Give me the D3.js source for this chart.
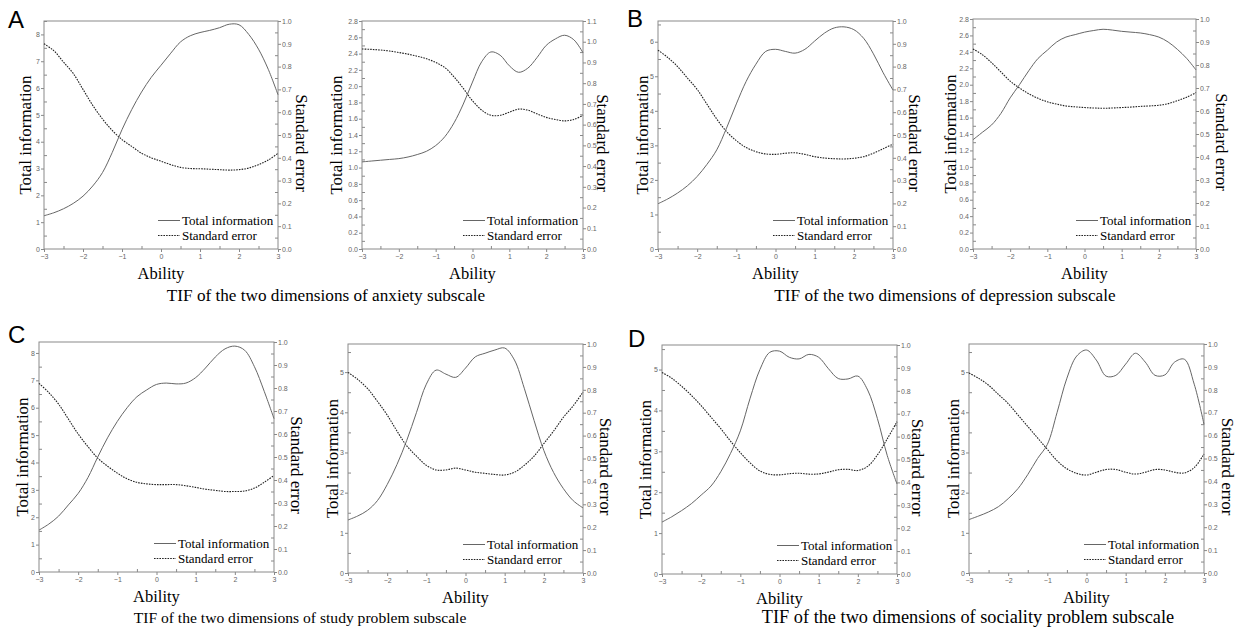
<!DOCTYPE html>
<html>
<head>
<meta charset="utf-8">
<script src="https://cdnjs.cloudflare.com/ajax/libs/d3/7.8.5/d3.min.js"></script>
<style>
  body { margin: 0; background: #fff; }
  .tick text { font-family: "Liberation Sans", Arial, sans-serif; font-size: 7px; fill: #666; }
  .tick line { stroke: #888; }
</style>
</head>
<body>
<svg id="fig" width="1240" height="634"></svg>
<script>

// ability grid shared by every panel
var ability = [-3, -2.75, -2.5, -2.25, -2, -1.75, -1.5, -1.25, -1, -0.75, -0.5, -0.25,
	0, 0.25, 0.5, 0.75, 1, 1.25, 1.5, 1.75, 2, 2.25, 2.5, 2.75, 3];
var abilityTicks = [-3, -2, -1, 0, 1, 2, 3];

// A - anxiety subscale
var anxietyInfo1 = [1.24, 1.35, 1.5, 1.7, 1.97, 2.35, 2.85, 3.6, 4.45, 5.2, 5.85, 6.4, 6.85, 7.3, 7.72, 7.95, 8.07, 8.15, 8.25, 8.38, 8.36, 8.0, 7.45, 6.7, 5.75];
var anxietySE1 = [0.90, 0.87, 0.82, 0.77, 0.70, 0.63, 0.57, 0.52, 0.48, 0.45, 0.42, 0.40, 0.385, 0.37, 0.358, 0.353, 0.352, 0.35, 0.348, 0.346, 0.348, 0.355, 0.37, 0.39, 0.42];
var anxietyInfo2 = [1.07, 1.08, 1.09, 1.10, 1.11, 1.13, 1.16, 1.2, 1.27, 1.38, 1.55, 1.78, 2.05, 2.3, 2.42, 2.38, 2.25, 2.17, 2.22, 2.35, 2.5, 2.58, 2.625, 2.57, 2.41];
var anxietySE2 = [0.965, 0.963, 0.96, 0.955, 0.948, 0.94, 0.93, 0.918, 0.90, 0.875, 0.83, 0.775, 0.715, 0.67, 0.645, 0.645, 0.66, 0.675, 0.67, 0.652, 0.635, 0.625, 0.618, 0.625, 0.645];

// B - depression subscale
var depressionInfo1 = [1.31, 1.45, 1.62, 1.83, 2.1, 2.45, 2.87, 3.5, 4.2, 4.85, 5.35, 5.72, 5.78, 5.72, 5.67, 5.78, 6.02, 6.25, 6.4, 6.43, 6.35, 6.1, 5.65, 5.1, 4.6];
var depressionSE1 = [0.872, 0.84, 0.80, 0.75, 0.70, 0.635, 0.57, 0.515, 0.475, 0.445, 0.427, 0.417, 0.415, 0.42, 0.422, 0.415, 0.405, 0.399, 0.396, 0.395, 0.398, 0.405, 0.42, 0.44, 0.46];
var depressionInfo2 = [1.33, 1.42, 1.51, 1.65, 1.84, 2.0, 2.17, 2.32, 2.42, 2.52, 2.58, 2.61, 2.64, 2.66, 2.675, 2.665, 2.65, 2.64, 2.63, 2.61, 2.58, 2.52, 2.43, 2.32, 2.18];
var depressionSE2 = [0.87, 0.845, 0.81, 0.77, 0.73, 0.70, 0.675, 0.655, 0.64, 0.63, 0.622, 0.618, 0.615, 0.613, 0.612, 0.613, 0.615, 0.617, 0.62, 0.622, 0.625, 0.632, 0.645, 0.66, 0.68];

// C - study problem subscale
var studyInfo1 = [1.53, 1.75, 2.04, 2.45, 2.87, 3.45, 4.2, 4.9, 5.5, 6.0, 6.4, 6.65, 6.85, 6.9, 6.87, 6.9, 7.1, 7.45, 7.85, 8.15, 8.25, 8.1, 7.5, 6.6, 5.6];
var studySE1 = [0.82, 0.78, 0.73, 0.665, 0.60, 0.545, 0.495, 0.46, 0.43, 0.405, 0.39, 0.383, 0.38, 0.38, 0.38, 0.375, 0.368, 0.36, 0.355, 0.35, 0.35, 0.352, 0.365, 0.39, 0.42];
var studyInfo2 = [1.32, 1.42, 1.56, 1.8, 2.2, 2.7, 3.3, 4.0, 4.7, 5.05, 4.95, 4.87, 5.1, 5.38, 5.47, 5.55, 5.6, 5.3, 4.6, 3.8, 3.05, 2.5, 2.1, 1.8, 1.62];
var studySE2 = [0.876, 0.845, 0.805, 0.75, 0.69, 0.62, 0.555, 0.51, 0.47, 0.45, 0.45, 0.458, 0.45, 0.44, 0.435, 0.43, 0.428, 0.44, 0.47, 0.51, 0.565, 0.62, 0.68, 0.73, 0.79];

// D - sociality problem subscale
var socialInfo1 = [1.27, 1.4, 1.55, 1.72, 1.93, 2.15, 2.5, 2.95, 3.5, 4.3, 5.0, 5.42, 5.45, 5.3, 5.26, 5.37, 5.3, 5.02, 4.78, 4.77, 4.84, 4.5, 3.8, 2.9, 2.2];
var socialSE1 = [0.88, 0.855, 0.82, 0.78, 0.735, 0.685, 0.635, 0.58, 0.53, 0.485, 0.45, 0.435, 0.433, 0.438, 0.44, 0.436, 0.437, 0.445, 0.455, 0.457, 0.452, 0.47, 0.52, 0.59, 0.665];
var socialInfo2 = [1.33, 1.42, 1.52, 1.65, 1.85, 2.1, 2.45, 2.85, 3.2, 4.0, 4.85, 5.4, 5.55, 5.3, 4.9, 4.92, 5.2, 5.47, 5.25, 4.92, 4.93, 5.25, 5.32, 4.7, 3.7];
var socialSE2 = [0.873, 0.85, 0.82, 0.78, 0.74, 0.69, 0.64, 0.59, 0.54, 0.49, 0.455, 0.435, 0.428, 0.44, 0.452, 0.452, 0.44, 0.432, 0.44, 0.452, 0.45, 0.44, 0.437, 0.46, 0.52];

// axis tick values
var intTicks8 = [0, 1, 2, 3, 4, 5, 6, 7, 8];
var intTicks6 = [0, 1, 2, 3, 4, 5, 6];
var intTicks5 = [0, 1, 2, 3, 4, 5];
var decTicks28 = [0, 0.2, 0.4, 0.6, 0.8, 1.0, 1.2, 1.4, 1.6, 1.8, 2.0, 2.2, 2.4, 2.6, 2.8];
var seTicks10 = [0, 0.1, 0.2, 0.3, 0.4, 0.5, 0.6, 0.7, 0.8, 0.9, 1.0];
var seTicks11 = [0, 0.1, 0.2, 0.3, 0.4, 0.5, 0.6, 0.7, 0.8, 0.9, 1.0, 1.1];

var groupLetters = ['A', 'B', 'C', 'D'];
var groupTitles = [
	'TIF of the two dimensions of anxiety subscale',
	'TIF of the two dimensions of depression subscale',
	'TIF of the two dimensions of study problem subscale',
	'TIF of the two dimensions of sociality problem subscale'
];

var Fig = {

	// layout of each panel (frame in px, domain maxima, label offsets)
	panels: [
		{ info: anxietyInfo1, se: anxietySE1, x0: 44, x1: 278, y0: 21, y1: 249, iMax: 8.5, iTicks: intTicks8, iStep: 0.5, iFmt: 'd', sMax: 1.0, sTicks: seTicks10, tiOff: 19, seOff: 24 },
		{ info: anxietyInfo2, se: anxietySE2, x0: 362, x1: 583, y0: 21, y1: 249, iMax: 2.8, iTicks: decTicks28, iStep: 0.1, iFmt: '.1f', sMax: 1.1, sTicks: seTicks11, tiOff: 26, seOff: 20 },
		{ info: depressionInfo1, se: depressionSE1, x0: 658, x1: 893, y0: 21, y1: 249, iMax: 6.6, iTicks: intTicks6, iStep: 0.5, iFmt: 'd', sMax: 1.0, sTicks: seTicks10, tiOff: 16, seOff: 22 },
		{ info: depressionInfo2, se: depressionSE2, x0: 973, x1: 1196, y0: 19, y1: 249, iMax: 2.8, iTicks: decTicks28, iStep: 0.1, iFmt: '.1f', sMax: 1.0, sTicks: seTicks10, tiOff: 23, seOff: 26 },
		{ info: studyInfo1, se: studySE1, x0: 39, x1: 274, y0: 342, y1: 572, iMax: 8.4, iTicks: intTicks8, iStep: 0.5, iFmt: 'd', sMax: 1.0, sTicks: seTicks10, tiOff: 17, seOff: 23 },
		{ info: studyInfo2, se: studySE2, x0: 348, x1: 583, y0: 344, y1: 573, iMax: 5.7, iTicks: intTicks5, iStep: 0.5, iFmt: 'd', sMax: 1.0, sTicks: seTicks10, tiOff: 16, seOff: 23 },
		{ info: socialInfo1, se: socialSE1, x0: 662, x1: 897, y0: 345, y1: 574, iMax: 5.6, iTicks: intTicks5, iStep: 0.5, iFmt: 'd', sMax: 1.0, sTicks: seTicks10, tiOff: 17, seOff: 21 },
		{ info: socialInfo2, se: socialSE2, x0: 969, x1: 1204, y0: 344, y1: 573, iMax: 5.7, iTicks: intTicks5, iStep: 0.5, iFmt: 'd', sMax: 1.0, sTicks: seTicks10, tiOff: 16, seOff: 24 }
	],

	letterPos: [[8, 28], [627, 27], [8, 343], [628, 347]],
	titlePos: [[326, 301], [945, 301], [300, 623], [968, 623]],
	titleSize: [17.2, 17.2, 15.6, 18.3],

	init: function() {
		var svg = d3.select('#fig');
		Fig.panels.forEach(function(p) { Fig.drawPanel(svg, p); });

		svg.selectAll('text.letter')
			.data(groupLetters)
			.enter()
			.append('text')
			.attr('class', 'letter')
			.attr('x', function(d, i) { return Fig.letterPos[i][0]; })
			.attr('y', function(d, i) { return Fig.letterPos[i][1]; })
			.style('font-family', '"Liberation Sans", Arial, sans-serif')
			.style('font-size', '24px')
			.text(function(d) { return d; });

		svg.selectAll('text.title')
			.data(groupTitles)
			.enter()
			.append('text')
			.attr('class', 'title')
			.attr('x', function(d, i) { return Fig.titlePos[i][0]; })
			.attr('y', function(d, i) { return Fig.titlePos[i][1]; })
			.attr('text-anchor', 'middle')
			.style('font-family', '"Liberation Serif", "Times New Roman", serif')
			.style('font-size', function(d, i) { return Fig.titleSize[i] + 'px'; })
			.text(function(d) { return d; });
	},

	drawPanel: function(svg, p) {
		var serif = '"Liberation Serif", "Times New Roman", serif';
		var x = d3.scaleLinear().domain([-3, 3]).range([p.x0, p.x1]);
		var yI = d3.scaleLinear().domain([0, p.iMax]).range([p.y1, p.y0]);
		var yS = d3.scaleLinear().domain([0, p.sMax]).range([p.y1, p.y0]);
		var g = svg.append('g');

		// minor ticks point inward
		var iMinor = d3.range(0, p.iMax + 1e-9, p.iStep).filter(function(v) {
			return p.iTicks.indexOf(+v.toFixed(2)) < 0;
		});
		var sMinor = d3.range(0.05, p.sMax, 0.1);
		var xMinor = [-2.5, -1.5, -0.5, 0.5, 1.5, 2.5];

		g.append('g').attr('transform', 'translate(' + p.x0 + ',0)')
			.call(d3.axisLeft(yI).tickValues(p.iTicks).tickSize(3).tickPadding(1).tickFormat(d3.format(p.iFmt)));
		g.append('g').attr('transform', 'translate(' + p.x0 + ',0)')
			.call(d3.axisLeft(yI).tickValues(iMinor).tickSize(-3).tickFormat(''));
		g.append('g').attr('transform', 'translate(' + p.x1 + ',0)')
			.call(d3.axisRight(yS).tickValues(p.sTicks).tickSize(3).tickPadding(1).tickFormat(d3.format('.1f')));
		g.append('g').attr('transform', 'translate(' + p.x1 + ',0)')
			.call(d3.axisRight(yS).tickValues(sMinor).tickSize(-3).tickFormat(''));
		g.append('g').attr('transform', 'translate(0,' + p.y1 + ')')
			.call(d3.axisBottom(x).tickValues(abilityTicks).tickSize(3).tickPadding(2).tickFormat(d3.format('d')));
		g.append('g').attr('transform', 'translate(0,' + p.y1 + ')')
			.call(d3.axisBottom(x).tickValues(xMinor).tickSize(-3).tickFormat(''));
		g.selectAll('.domain').remove();

		g.append('rect')
			.attr('x', p.x0).attr('y', p.y0)
			.attr('width', p.x1 - p.x0).attr('height', p.y1 - p.y0)
			.attr('fill', 'none')
			.attr('stroke', '#8a8a8a')
			.attr('stroke-width', 1);

		var infoLine = d3.line()
			.x(function(d, i) { return x(ability[i]); })
			.y(function(d) { return yI(d); })
			.curve(d3.curveCatmullRom.alpha(0.5));
		var seLine = d3.line()
			.x(function(d, i) { return x(ability[i]); })
			.y(function(d) { return yS(d); })
			.curve(d3.curveCatmullRom.alpha(0.5));

		g.append('path').datum(p.se)
			.attr('d', seLine)
			.attr('fill', 'none')
			.attr('stroke', '#222')
			.attr('stroke-width', 1.1)
			.attr('stroke-dasharray', '1.6,1.1');
		g.append('path').datum(p.info)
			.attr('d', infoLine)
			.attr('fill', 'none')
			.attr('stroke', '#666')
			.attr('stroke-width', 1);

		// axis titles
		var midY = (p.y0 + p.y1) / 2;
		g.append('text')
			.attr('transform', 'translate(' + (p.x0 - p.tiOff) + ',' + midY + ') rotate(-90)')
			.attr('text-anchor', 'middle')
			.attr('dy', '0.35em')
			.style('font-family', serif).style('font-size', '17px')
			.text('Total information');
		g.append('text')
			.attr('transform', 'translate(' + (p.x1 + p.seOff) + ',' + (midY + 8) + ') rotate(90)')
			.attr('text-anchor', 'middle')
			.attr('dy', '0.35em')
			.style('font-family', serif).style('font-size', '17px')
			.text('Standard error');
		g.append('text')
			.attr('x', (p.x0 + p.x1) / 2)
			.attr('y', p.y1 + 30)
			.attr('text-anchor', 'middle')
			.style('font-family', serif).style('font-size', '16.5px')
			.text('Ability');

		// legend
		var legend = [
			{ label: 'Total information', dash: null, color: '#666', dy: 24 },
			{ label: 'Standard error', dash: '1.6,1.1', color: '#222', dy: 9 }
		];
		var lg = g.selectAll('g.legend')
			.data(legend)
			.enter()
			.append('g')
			.attr('class', 'legend');
		lg.append('line')
			.attr('x1', p.x1 - 120).attr('x2', p.x1 - 98)
			.attr('y1', function(d) { return p.y1 - d.dy - 4.5; })
			.attr('y2', function(d) { return p.y1 - d.dy - 4.5; })
			.attr('stroke', function(d) { return d.color; })
			.attr('stroke-width', 1)
			.attr('stroke-dasharray', function(d) { return d.dash; });
		lg.append('text')
			.attr('x', p.x1 - 96)
			.attr('y', function(d) { return p.y1 - d.dy; })
			.style('font-family', serif).style('font-size', '13px')
			.text(function(d) { return d.label; });
	}
};

Fig.init();
</script>
</body>
</html>
